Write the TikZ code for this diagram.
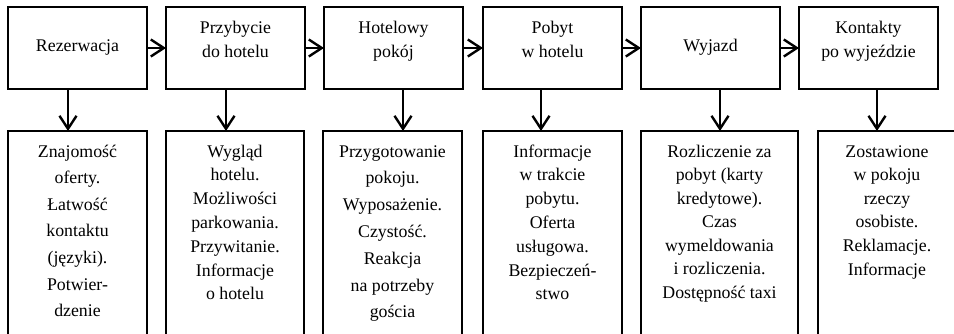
\documentclass[tikz,border=0pt]{standalone}
\usepackage{fontspec}
\setmainfont{Liberation Serif}
\usetikzlibrary{arrows.meta}
% centred stack of lines whose baseline is that of the first line
\newcommand\linestack[2][23.7]{{\fontsize{17.8}{#1}\selectfont\begin{tabular}[t]{@{}c@{}}#2\end{tabular}}}
\begin{document}
\begin{tikzpicture}[x=1pt,y=-1pt,
  box/.style={draw,line width=1.1pt,inner sep=0pt,outer sep=0pt},
  stage/.style={box,minimum width=139pt,minimum height=82pt},
  detail/.style={box,anchor=north west,minimum height=230pt},
  caption/.style={anchor=base,inner sep=0pt,outer sep=0pt},
  flow/.style={line width=2.3pt,-{Straight Barb[length=13pt,width=17pt,line width=2.4pt]}}]
\useasboundingbox (0,0) rectangle (954,333);
\clip (0,0) rectangle (954,333);
\fill[white] (0,0) rectangle (954,333);

% stages of the stay
\node[stage] (t1) at (77.5,48) {};
\node[stage] (t2) at (235.5,48) {};
\node[stage] (t3) at (393.5,48) {};
\node[stage] (t4) at (552.5,48) {};
\node[stage] (t5) at (710.5,48) {};
\node[stage] (t6) at (868.5,48) {};

\node[caption] (t1c) at (t1.center |- 0,51) {\linestack{Rezerwacja}};
\node[caption] (t2c) at (t2.center |- 0,33) {\linestack[24]{Przybycie\\do hotelu}};
\node[caption] (t3c) at (t3.center |- 0,33) {\linestack[24.5]{Hotelowy\\pokój}};
\node[caption] (t4c) at (t4.center |- 0,33) {\linestack[24]{Pobyt\\w hotelu}};
\node[caption] (t5c) at (t5.center |- 0,51) {\linestack{Wyjazd}};
\node[caption] (t6c) at (t6.center |- 0,33) {\linestack[24]{Kontakty\\po wyjeździe}};

% details of each stage
\node[detail,minimum width=139pt] (d1) at (8,131) {};
\node[detail,minimum width=138pt] (d2) at (166,131) {};
\node[detail,minimum width=139pt] (d3) at (323,131) {};
\node[detail,minimum width=139pt] (d4) at (483,131) {};
\node[detail,minimum width=157pt] (d5) at (641,131) {};
\node[detail,minimum width=138pt] (d6) at (818,131) {};

\node[caption] (d1c) at (d1.north |- 0,157) {\linestack[26.6]{Znajomość\\oferty.\\Łatwość\\kontaktu\\(języki).\\Potwier-\\dzenie}};
\node[caption] (d2c) at (d2.north |- 0,157) {\linestack[23.8]{Wygląd\\hotelu.\\Możliwości\\parkowania.\\Przywitanie.\\Informacje\\o hotelu}};
\node[caption] (d3c) at (d3.north |- 0,157) {\linestack[26.8]{Przygotowanie\\pokoju.\\Wyposażenie.\\Czystość.\\Reakcja\\na potrzeby\\gościa}};
\node[caption] (d4c) at (d4.north |- 0,157) {\linestack[23.8]{Informacje\\w trakcie\\pobytu.\\Oferta\\usługowa.\\Bezpieczeń-\\stwo}};
\node[caption] (d5c) at (d5.north |- 0,157) {\linestack[23.5]{Rozliczenie za\\pobyt (karty\\kredytowe).\\Czas\\wymeldowania\\i rozliczenia.\\Dostępność taxi}};
\node[caption] (d6c) at (d6.north |- 0,157) {\linestack[23.6]{Zostawione\\w pokoju\\rzeczy\\osobiste.\\Reklamacje.\\Informacje}};

% sequence of stages
\draw[flow] (t1.east) -- (t2.west);
\draw[flow] (t2.east) -- (t3.west);
\draw[flow] (t3.east) -- (t4.west);
\draw[flow] (t4.east) -- (t5.west);
\draw[flow] (t5.east) -- (t6.west);

% stage to its details
\draw[flow] ([xshift=-9.5pt]t1.south) -- ([xshift=-9.5pt]d1.north);
\draw[flow] ([xshift=-9.5pt]t2.south) -- ([xshift=-9pt]d2.north);
\draw[flow] ([xshift=9.5pt]t3.south) -- ([xshift=10.5pt]d3.north);
\draw[flow] ([xshift=-11.5pt]t4.south) -- ([xshift=-11.5pt]d4.north);
\draw[flow] ([xshift=9.5pt]t5.south) -- ([xshift=0.5pt]d5.north);
\draw[flow] ([xshift=8.5pt]t6.south) -- ([xshift=-10pt]d6.north);
\end{tikzpicture}
\end{document}
